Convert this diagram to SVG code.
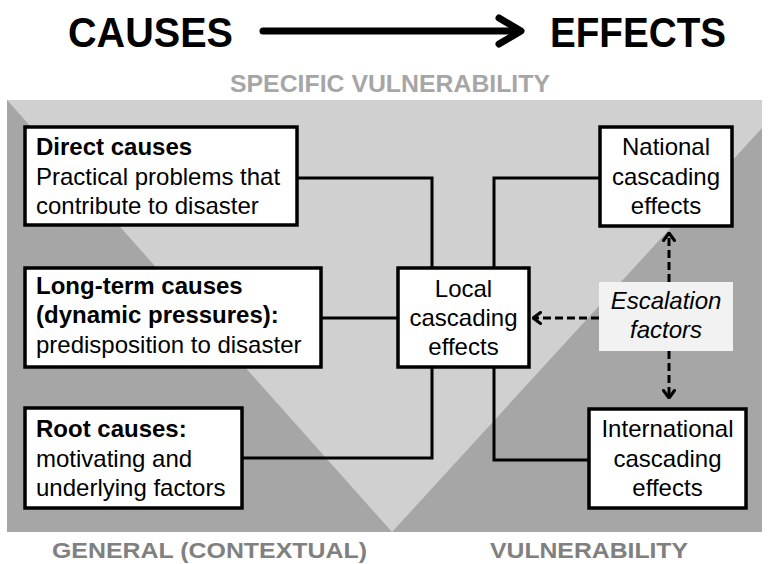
<svg xmlns="http://www.w3.org/2000/svg" width="769" height="564" viewBox="0 0 769 564">
  <style>
    text { font-family: "Liberation Sans", Arial, sans-serif; }
    .title { font-size: 42px; font-weight: bold; fill: #000; }
    .band { font-size: 24px; font-weight: bold; }
    .foot { font-size: 22px; font-weight: bold; fill: #808080; }
    .box { fill: #fff; stroke: #000; stroke-width: 3.5; }
    .t { font-size: 24px; fill: #000; }
    .b { font-weight: bold; }
    .c { text-anchor: middle; }
    .wire { fill: none; stroke: #000; stroke-width: 3; }
    .dash { fill: none; stroke: #000; stroke-width: 3; stroke-dasharray: 8 4; marker-end: url(#chev); }
  </style>
  <defs>
    <marker id="chev" viewBox="0 0 10 14" refX="9" refY="7" markerWidth="10" markerHeight="14" markerUnits="userSpaceOnUse" orient="auto">
      <path d="M1.5,1.5 L9,7 L1.5,12.5" fill="none" stroke="#000" stroke-width="3" stroke-linejoin="round" stroke-linecap="round"/>
    </marker>
  </defs>

  <rect width="769" height="564" fill="#fff"/>

  <!-- heading: causes to effects -->
  <g id="heading">
    <text class="title" x="68" y="47" textLength="165" lengthAdjust="spacingAndGlyphs">CAUSES</text>
    <line x1="263" y1="31" x2="519" y2="31" stroke="#000" stroke-width="7" stroke-linecap="round"/>
    <polyline points="499,18 521,31 499,44" fill="none" stroke="#000" stroke-width="7" stroke-linecap="round" stroke-linejoin="round"/>
    <text class="title" x="550" y="47" textLength="176" lengthAdjust="spacingAndGlyphs">EFFECTS</text>
  </g>

  <!-- vulnerability field: general (dark) with specific (light) wedge -->
  <g id="field">
    <rect x="7" y="100" width="755" height="432" fill="#a6a6a6"/>
    <polygon points="7,100 762,100 762,128 392,532" fill="#d0d0d0"/>
    <text class="band" x="230" y="92" fill="#a6a6a6" textLength="320" lengthAdjust="spacingAndGlyphs">SPECIFIC VULNERABILITY</text>
    <text class="foot" x="52" y="558" textLength="315" lengthAdjust="spacingAndGlyphs">GENERAL (CONTEXTUAL)</text>
    <text class="foot" x="490" y="558" textLength="198" lengthAdjust="spacingAndGlyphs">VULNERABILITY</text>
  </g>

  <!-- connectors -->
  <g id="connectors">
    <path class="wire" d="M297,178 H432 V268"/>
    <path class="wire" d="M600,178 H494 V268"/>
    <path class="wire" d="M321,318 H398"/>
    <path class="wire" d="M242,458 H432 V367"/>
    <path class="wire" d="M589,460 H494 V367"/>
    <path class="dash" d="M599,318 H533"/>
    <path class="dash" d="M669,282 V233"/>
    <path class="dash" d="M669,351 V398"/>
  </g>

  <g id="direct-causes">
    <rect class="box" x="25" y="127" width="272" height="98"/>
    <text class="t b" x="36" y="155">Direct causes</text>
    <text class="t" x="36" y="185">Practical problems that</text>
    <text class="t" x="36" y="214">contribute to disaster</text>
  </g>

  <g id="long-term-causes">
    <rect class="box" x="25" y="268" width="296" height="99"/>
    <text class="t b" x="36" y="294">Long-term causes</text>
    <text class="t b" x="36" y="323">(dynamic pressures):</text>
    <text class="t" x="36" y="353">predisposition to disaster</text>
  </g>

  <g id="root-causes">
    <rect class="box" x="25" y="408" width="217" height="100"/>
    <text class="t b" x="36" y="437">Root causes:</text>
    <text class="t" x="36" y="467">motivating and</text>
    <text class="t" x="36" y="496">underlying factors</text>
  </g>

  <g id="local-effects">
    <rect class="box" x="398" y="268" width="131" height="99"/>
    <text class="t c" x="463.5" y="297">Local</text>
    <text class="t c" x="463.5" y="326">cascading</text>
    <text class="t c" x="463.5" y="355">effects</text>
  </g>

  <g id="national-effects">
    <rect class="box" x="600" y="127" width="132" height="99"/>
    <text class="t c" x="666" y="155">National</text>
    <text class="t c" x="666" y="185">cascading</text>
    <text class="t c" x="666" y="214">effects</text>
  </g>

  <g id="international-effects">
    <rect class="box" x="589" y="409" width="157" height="99"/>
    <text class="t c" x="667.5" y="437">International</text>
    <text class="t c" x="667.5" y="467">cascading</text>
    <text class="t c" x="667.5" y="496">effects</text>
  </g>

  <g id="escalation-factors">
    <rect x="599" y="282" width="134" height="69" fill="#f2f2f2"/>
    <text class="t c" x="666" y="309" font-style="italic">Escalation</text>
    <text class="t c" x="666" y="338" font-style="italic">factors</text>
  </g>
</svg>
